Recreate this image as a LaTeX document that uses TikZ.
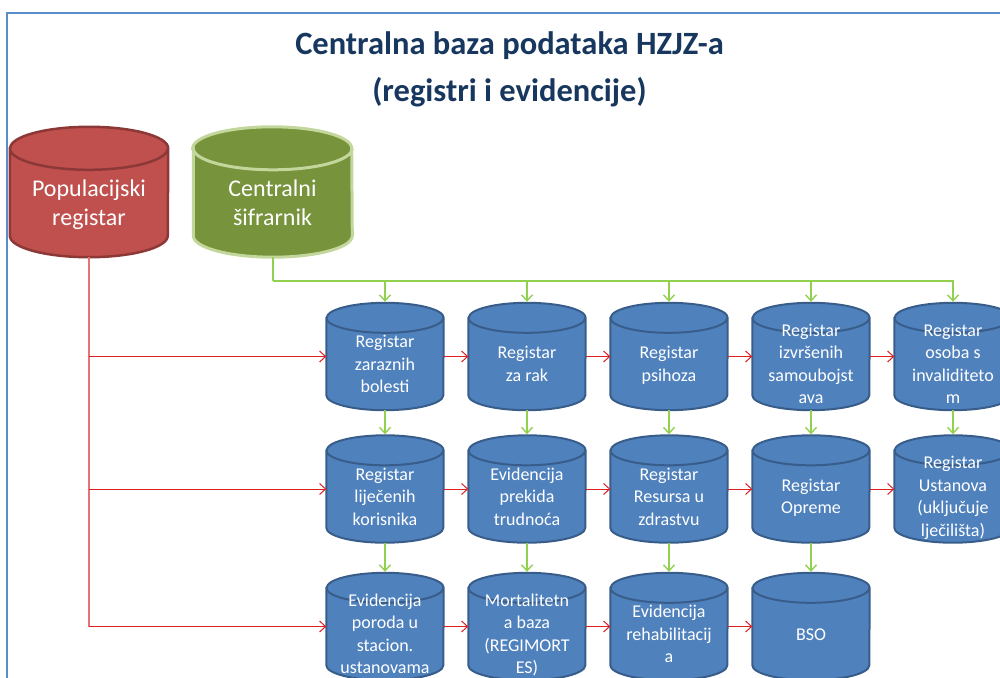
\documentclass[tikz,border=0pt]{standalone}
\usepackage{fontspec}
\setmainfont{Carlito}
\usetikzlibrary{arrows.meta, calc, backgrounds}

\definecolor{frameblue}{RGB}{91,140,203}
\definecolor{titlenavy}{RGB}{23,55,94}
\definecolor{canblue}{RGB}{79,129,189}
\definecolor{canblueedge}{RGB}{56,93,138}
\definecolor{canred}{RGB}{192,80,77}
\definecolor{canrededge}{RGB}{140,56,54}
\definecolor{cangreen}{RGB}{119,147,60}
\definecolor{cangreenedge}{RGB}{195,214,155}
\definecolor{linkred}{RGB}{222,32,32}
\definecolor{trunkred}{RGB}{230,115,115}
\definecolor{linkgreen}{RGB}{146,208,80}

% text inside a can, pushed a bit below the middle
\newcommand\cantxt[2][13.5pt]{\raisebox{-#1}[0pt][0pt]{\begin{tabular}{@{}c@{}}#2\end{tabular}}}
% can outline round a named node: style, node, x radius, y radius
\newcommand\drawcan[4]{%
  \path[#1] ($(#2.north west)+(0,-#4)$) -- ($(#2.south west)+(0,#4)$)
    arc[start angle=180, end angle=360, x radius=#3, y radius=#4]
    -- ($(#2.north east)+(0,-#4)$)
    arc[start angle=0, end angle=180, x radius=#3, y radius=#4] -- cycle
    ($(#2.north west)+(0,-#4)$)
    arc[start angle=180, end angle=360, x radius=#3, y radius=#4];
}

\tikzset{
  can/.style={inner sep=0pt, minimum width=117pt, minimum height=107pt, text=white, font=\fontsize{18}{22.5}\selectfont},
  bigcan/.style={inner sep=0pt, minimum width=158pt, minimum height=130pt, text=white, font=\fontsize{24}{29}\selectfont},
  bluecan/.style={fill=canblue, draw=canblueedge, line width=2pt},
  redlink/.style={draw=linkred, line width=1pt, -{Straight Barb[length=6pt, width=11pt]}},
  redtrunk/.style={draw=trunkred, line width=1.6pt},
  greenlink/.style={draw=linkgreen, line width=1.4pt, -{Straight Barb[length=6pt, width=11pt]}, shorten >=1pt},
  greenbus/.style={draw=linkgreen, line width=2pt},
}

\begin{document}
\begin{tikzpicture}[x=1pt, y=-1pt]
  \useasboundingbox (0,0) rectangle (1000,677);
  \clip (0,0) rectangle (1000,677);

  \node[align=center, text=titlenavy, font=\fontsize{32.5}{47.5}\selectfont\bfseries] (title) at (509.5,69.5) {Centralna baza podataka HZJZ-a\\(registri i evidencije)};

  \node[bigcan] (pop) at (89,192) {\cantxt[19pt]{Populacijski\\registar}};
  \node[bigcan] (sif) at (272.5,192) {\cantxt[19pt]{Centralni\\šifrarnik}};

  % first row
  \node[can] (zaraz) at (385,356.5) {\cantxt{Registar\\zaraznih\\bolesti}};
  \node[can] (rak) at (527,356.5) {\cantxt{Registar\\za rak}};
  \node[can] (psih) at (669,356.5) {\cantxt{Registar\\psihoza}};
  \node[can] (samoub) at (811,356.5) {\cantxt{Registar\\izvršenih\\samoubojst\\ava}};
  \node[can] (invalid) at (953,356.5) {\cantxt{Registar\\osoba s\\invaliditeto\\m}};
  % second row
  \node[can] (ljec) at (385,489) {\cantxt{Registar\\liječenih\\korisnika}};
  \node[can] (prekid) at (527,489) {\cantxt{Evidencija\\prekida\\trudnoća}};
  \node[can] (resurs) at (669,489) {\cantxt{Registar\\Resursa u\\zdrastvu}};
  \node[can] (oprema) at (811,489) {\cantxt{Registar\\Opreme}};
  \node[can] (ustan) at (953,489) {\cantxt{Registar\\Ustanova\\(uključuje\\lječilišta)}};
  % third row
  \node[can] (porod) at (385,626.5) {\cantxt{Evidencija\\poroda u\\stacion.\\ustanovama}};
  \node[can] (mort) at (527,626.5) {\cantxt{Mortalitetn\\a baza\\(REGIMORT\\ES)}};
  \node[can] (rehab) at (669,626.5) {\cantxt{Evidencija\\rehabilitacij\\a}};
  \node[can] (bso) at (811,626.5) {\cantxt{BSO}};

  \begin{scope}[on background layer]
    \draw[frameblue, line width=2pt] (7,13) rectangle (1040,720);
    \drawcan{fill=canred, draw=canrededge, line width=2.5pt}{pop}{79pt}{21.5pt}
    \drawcan{fill=cangreen, draw=cangreenedge, line width=3pt}{sif}{79.5pt}{21.5pt}
    \drawcan{bluecan}{zaraz}{58.5pt}{15pt}
    \drawcan{bluecan}{rak}{58.5pt}{15pt}
    \drawcan{bluecan}{psih}{58.5pt}{15pt}
    \drawcan{bluecan}{samoub}{58.5pt}{15pt}
    \drawcan{bluecan}{invalid}{58.5pt}{15pt}
    \drawcan{bluecan}{ljec}{58.5pt}{15pt}
    \drawcan{bluecan}{prekid}{58.5pt}{15pt}
    \drawcan{bluecan}{resurs}{58.5pt}{15pt}
    \drawcan{bluecan}{oprema}{58.5pt}{15pt}
    \drawcan{bluecan}{ustan}{58.5pt}{15pt}
    \drawcan{bluecan}{porod}{58.5pt}{15pt}
    \drawcan{bluecan}{mort}{58.5pt}{15pt}
    \drawcan{bluecan}{rehab}{58.5pt}{15pt}
    \drawcan{bluecan}{bso}{58.5pt}{15pt}
  \end{scope}

  % population register feeds the first column
  \coordinate (rbend) at (pop.south |- porod.west);
  \draw[redtrunk] (pop.south) -- (rbend);
  \draw[redlink] (pop.south |- zaraz.west) -- (zaraz.west);
  \draw[redlink] (pop.south |- ljec.west) -- (ljec.west);
  \draw[redlink] (rbend) -- (porod.west);
  \draw[redlink] (zaraz) -- (rak);
  \draw[redlink] (rak) -- (psih);
  \draw[redlink] (psih) -- (samoub);
  \draw[redlink] (samoub) -- (invalid);
  \draw[redlink] (ljec) -- (prekid);
  \draw[redlink] (prekid) -- (resurs);
  \draw[redlink] (resurs) -- (oprema);
  \draw[redlink] (oprema) -- (ustan);
  \draw[redlink] (porod) -- (mort);
  \draw[redlink] (mort) -- (rehab);
  \draw[redlink] (rehab) -- (bso);

  % code list feeds every column from the top
  \coordinate (gbus) at (272.5,281);
  \draw[greenbus] (sif.south) -- (gbus);
  \draw[greenlink] (gbus) -| (zaraz.north);
  \draw[greenlink] (gbus) -| (rak.north);
  \draw[greenlink] (gbus) -| (psih.north);
  \draw[greenlink] (gbus) -| (samoub.north);
  \draw[greenlink] (gbus) -| (invalid.north);
  \draw[greenlink] (zaraz) -- (ljec);
  \draw[greenlink] (rak) -- (prekid);
  \draw[greenlink] (psih) -- (resurs);
  \draw[greenlink] (samoub) -- (oprema);
  \draw[greenlink] (invalid) -- (ustan);
  \draw[greenlink] (ljec) -- (porod);
  \draw[greenlink] (prekid) -- (mort);
  \draw[greenlink] (resurs) -- (rehab);
  \draw[greenlink] (oprema) -- (bso);
\end{tikzpicture}
\end{document}
